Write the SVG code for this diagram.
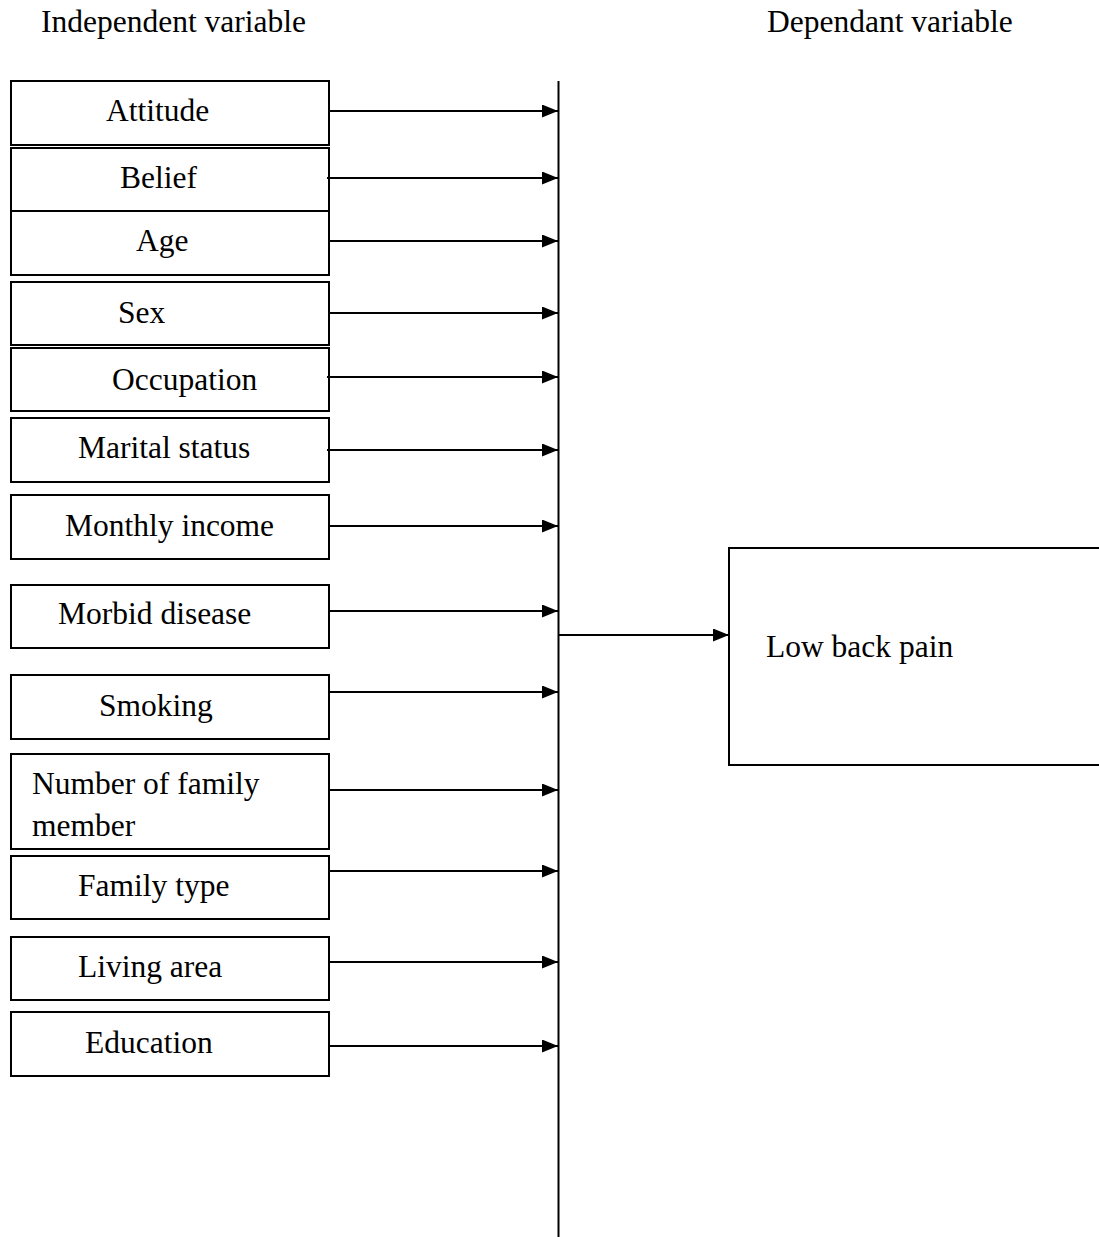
<svg xmlns="http://www.w3.org/2000/svg" width="1099" height="1237" viewBox="0 0 1099 1237">
<defs>
<style>
.t{font-family:'Liberation Serif','Times New Roman',Tinos,'DejaVu Serif',serif;font-size:31.5px;fill:#000}
.box{fill:#fff;stroke:#000;stroke-width:2}
.ln{stroke:#000;stroke-width:2;fill:none}
</style>
<marker id="ah" viewBox="0 0 16 13" refX="16" refY="6.5" markerWidth="16" markerHeight="13" markerUnits="userSpaceOnUse" orient="auto">
<path d="M0,0L16,6.5L0,13Z" fill="#000"/>
</marker>
</defs>
<rect width="1099" height="1237" fill="#fff"/>
<g class="t" font-family="Liberation Serif, serif">
<text x="41" y="32">Independent variable</text>
<text x="767" y="32">Dependant variable</text>
<g id="n-attitude"><rect class="box" x="11" y="81" width="318" height="64"/><text x="106" y="121">Attitude</text></g>
<g id="n-belief"><rect class="box" x="11" y="148" width="318" height="63"/><text x="120" y="188">Belief</text></g>
<g id="n-age"><rect class="box" x="11" y="211" width="318" height="64"/><text x="136" y="251">Age</text></g>
<g id="n-sex"><rect class="box" x="11" y="282" width="318" height="63"/><text x="118" y="323">Sex</text></g>
<g id="n-occupation"><rect class="box" x="11" y="348" width="318" height="63"/><text x="112" y="390">Occupation</text></g>
<g id="n-marital"><rect class="box" x="11" y="418" width="318" height="64"/><text x="78" y="458">Marital status</text></g>
<g id="n-income"><rect class="box" x="11" y="495" width="318" height="64"/><text x="65" y="536">Monthly income</text></g>
<g id="n-morbid"><rect class="box" x="11" y="585" width="318" height="63"/><text x="58" y="624">Morbid disease</text></g>
<g id="n-smoking"><rect class="box" x="11" y="675" width="318" height="64"/><text x="99" y="716">Smoking</text></g>
<g id="n-members"><rect class="box" x="11" y="754" width="318" height="95"/><text x="32" y="794">Number of family</text><text x="32" y="836">member</text></g>
<g id="n-familytype"><rect class="box" x="11" y="856" width="318" height="63"/><text x="78" y="896">Family type</text></g>
<g id="n-living"><rect class="box" x="11" y="937" width="318" height="63"/><text x="78" y="977">Living area</text></g>
<g id="n-education"><rect class="box" x="11" y="1012" width="318" height="64"/><text x="85" y="1053">Education</text></g>
<g id="n-lbp"><rect class="box" x="729" y="548" width="400" height="217"/><text x="766" y="657">Low back pain</text></g>
</g>
<g id="connectors">
<line class="ln" x1="558.5" y1="81" x2="558.5" y2="1237"/>
<line class="ln" x1="329" y1="111" x2="558" y2="111" marker-end="url(#ah)"/>
<line class="ln" x1="327" y1="178" x2="558" y2="178" marker-end="url(#ah)"/>
<line class="ln" x1="329" y1="241" x2="558" y2="241" marker-end="url(#ah)"/>
<line class="ln" x1="329" y1="313" x2="558" y2="313" marker-end="url(#ah)"/>
<line class="ln" x1="327" y1="377" x2="558" y2="377" marker-end="url(#ah)"/>
<line class="ln" x1="327" y1="450" x2="558" y2="450" marker-end="url(#ah)"/>
<line class="ln" x1="329" y1="526" x2="558" y2="526" marker-end="url(#ah)"/>
<line class="ln" x1="329" y1="611" x2="558" y2="611" marker-end="url(#ah)"/>
<line class="ln" x1="329" y1="692" x2="558" y2="692" marker-end="url(#ah)"/>
<line class="ln" x1="329" y1="790" x2="558" y2="790" marker-end="url(#ah)"/>
<line class="ln" x1="329" y1="871" x2="558" y2="871" marker-end="url(#ah)"/>
<line class="ln" x1="329" y1="962" x2="558" y2="962" marker-end="url(#ah)"/>
<line class="ln" x1="329" y1="1046" x2="558" y2="1046" marker-end="url(#ah)"/>
<line class="ln" x1="559" y1="635" x2="729" y2="635" marker-end="url(#ah)"/>
</g>
</svg>
